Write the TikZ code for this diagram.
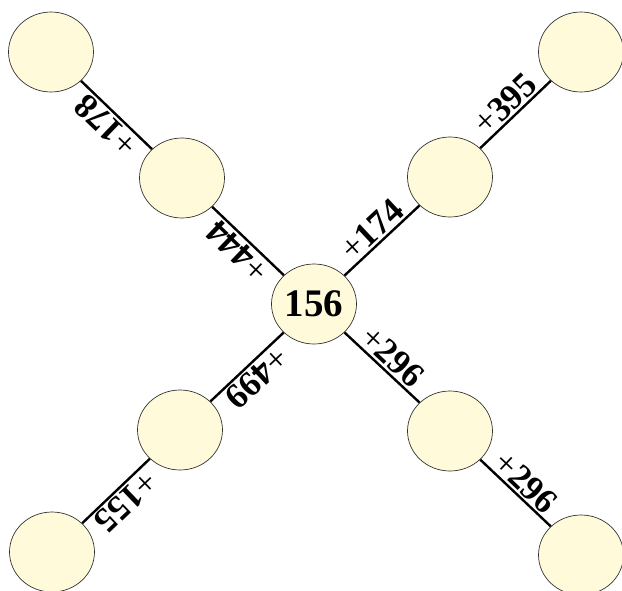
\documentclass[tikz,border=0pt]{standalone}
\usepackage{fontspec}
\setmainfont{Liberation Serif}
\usetikzlibrary{shapes.geometric}
\definecolor{halvany}{RGB}{255,250,218}
\newcommand{\plusz}[1]{{\mdseries+}#1}
\tikzset{
  kor/.style={ellipse,draw=black!80,line width=0.7pt,fill=halvany,
    minimum width=85pt,minimum height=80pt,inner sep=0pt},
  vonal/.style={line width=2.4pt},
  cimke/.style={sloped,allow upside down,above,inner sep=2pt,
    font=\fontsize{35}{35}\selectfont\bfseries},
}

\begin{document}
\begin{tikzpicture}[x=1pt,y=-1pt]
  \clip (0,0) rectangle (622,590);
  \node[kor,font=\fontsize{39}{39}\selectfont\bfseries] (k) at (314,304) {156};
  % bal fent, jobb fent, bal lent, jobb lent
  \node[kor] (bf1) at (182,178) {};
  \node[kor] (bf2) at (51,52) {};
  \node[kor] (jf1) at (450,177) {};
  \node[kor] (jf2) at (581,52) {};
  \node[kor] (ba1) at (180,430) {};
  \node[kor] (ba2) at (52,552) {};
  \node[kor] (ja1) at (450,431) {};
  \node[kor] (ja2) at (581,555) {};
  \draw[vonal] (k) -- node[cimke] {\plusz{444}} (bf1);
  \draw[vonal] (bf1) -- node[cimke] {\plusz{178}} (bf2);
  \draw[vonal] (k) -- node[cimke] {\plusz{174}} (jf1);
  \draw[vonal] (jf1) -- node[cimke] {\plusz{395}} (jf2);
  \draw[vonal] (k) -- node[cimke] {\plusz{499}} (ba1);
  \draw[vonal] (ba1) -- node[cimke] {\plusz{155}} (ba2);
  \draw[vonal] (k) -- node[cimke] {\plusz{296}} (ja1);
  \draw[vonal] (ja1) -- node[cimke] {\plusz{296}} (ja2);
\end{tikzpicture}
\end{document}
